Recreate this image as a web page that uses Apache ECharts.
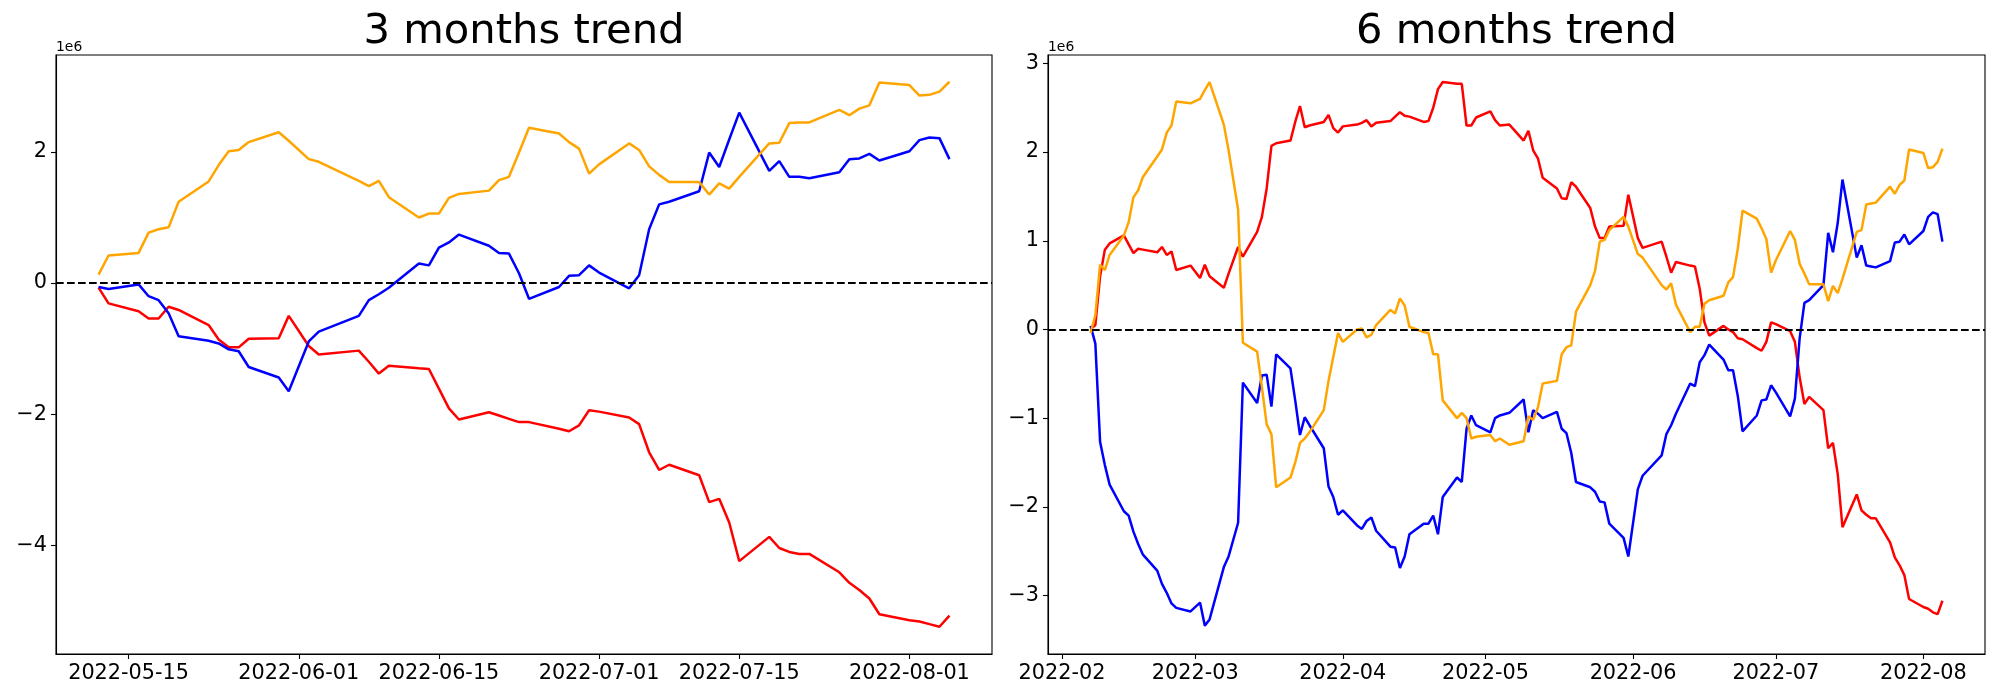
<!DOCTYPE html>
<html><head><meta charset="utf-8">
<script src="https://cdn.jsdelivr.net/npm/echarts@6/dist/echarts.min.js"></script>
<style>html,body{margin:0;padding:0;background:#fff}#c{width:2000px;height:700px}</style>
</head><body><div id="c"></div>
<script>
// ---------- 3 months panel ----------
const leftDates = ['2022-05-12','2022-05-13','2022-05-16','2022-05-17','2022-05-18','2022-05-19','2022-05-20','2022-05-23','2022-05-24','2022-05-25','2022-05-26','2022-05-27','2022-05-30','2022-05-31',
 '2022-06-02','2022-06-03','2022-06-07','2022-06-08','2022-06-09','2022-06-10','2022-06-13','2022-06-14','2022-06-15','2022-06-16','2022-06-17','2022-06-20','2022-06-21','2022-06-22','2022-06-23','2022-06-24','2022-06-27','2022-06-28','2022-06-29','2022-06-30',
 '2022-07-01','2022-07-04','2022-07-05','2022-07-06','2022-07-07','2022-07-08','2022-07-11','2022-07-12','2022-07-13','2022-07-14','2022-07-15','2022-07-18','2022-07-19','2022-07-20','2022-07-21','2022-07-22','2022-07-25','2022-07-26','2022-07-27','2022-07-28','2022-07-29',
 '2022-08-01','2022-08-02','2022-08-03','2022-08-04','2022-08-05'];
const leftRed = [-0.07,-0.31,-0.43,-0.54,-0.54,-0.36,-0.41,-0.64,-0.86,-0.98,-0.98,-0.85,-0.84,-0.50,
 -0.96,-1.09,-1.03,-1.20,-1.38,-1.26,-1.30,-1.31,-1.61,-1.91,-2.08,-1.97,-2.02,-2.07,-2.12,-2.12,-2.22,-2.26,-2.17,-1.94,
 -1.96,-2.05,-2.15,-2.58,-2.85,-2.77,-2.93,-3.34,-3.29,-3.65,-4.24,-3.87,-4.04,-4.10,-4.13,-4.13,-4.41,-4.57,-4.68,-4.81,-5.05,
 -5.14,-5.16,-5.20,-5.24,-5.07];
const leftBlue = [-0.06,-0.09,-0.02,-0.20,-0.26,-0.46,-0.81,-0.88,-0.92,-1.01,-1.04,-1.28,-1.44,-1.65,
 -0.89,-0.74,-0.50,-0.26,-0.17,-0.07,0.30,0.27,0.54,0.62,0.74,0.57,0.46,0.45,0.15,-0.24,-0.06,0.11,0.12,0.27,
 0.16,-0.08,0.12,0.82,1.20,1.24,1.40,1.99,1.77,2.19,2.60,1.71,1.86,1.62,1.62,1.60,1.69,1.89,1.90,1.97,1.87,
 2.01,2.18,2.22,2.21,1.89];
const leftOrange = [0.13,0.42,0.46,0.77,0.82,0.85,1.24,1.55,1.80,2.01,2.03,2.15,2.30,2.17,
 1.89,1.85,1.56,1.48,1.56,1.31,1.00,1.06,1.06,1.30,1.36,1.41,1.57,1.62,1.99,2.37,2.28,2.15,2.05,1.67,
 1.81,2.13,2.03,1.78,1.65,1.54,1.54,1.35,1.52,1.44,1.62,2.13,2.14,2.44,2.45,2.45,2.64,2.56,2.66,2.71,3.06,
 3.02,2.86,2.87,2.92,3.07];
const leftXTicks = ['2022-05-15','2022-06-01','2022-06-15','2022-07-01','2022-07-15','2022-08-01'];
const leftYTicks = [-4,-2,0,2];

// ---------- 6 months panel ----------
const rightDates = ['2022-02-07','2022-02-08','2022-02-09','2022-02-10','2022-02-11','2022-02-14','2022-02-15','2022-02-16','2022-02-17','2022-02-18','2022-02-21','2022-02-22','2022-02-23','2022-02-24','2022-02-25','2022-02-28',
 '2022-03-02','2022-03-03','2022-03-04','2022-03-07','2022-03-08','2022-03-10','2022-03-11','2022-03-14','2022-03-15','2022-03-16','2022-03-17','2022-03-18','2022-03-21','2022-03-22','2022-03-23','2022-03-24','2022-03-25','2022-03-28','2022-03-29','2022-03-30','2022-03-31',
 '2022-04-01','2022-04-04','2022-04-05','2022-04-06','2022-04-07','2022-04-08','2022-04-11','2022-04-12','2022-04-13','2022-04-14','2022-04-15','2022-04-18','2022-04-19','2022-04-20','2022-04-21','2022-04-22','2022-04-25','2022-04-26','2022-04-27','2022-04-28','2022-04-29',
 '2022-05-02','2022-05-03','2022-05-04','2022-05-06','2022-05-09','2022-05-10','2022-05-11','2022-05-12','2022-05-13','2022-05-16','2022-05-17','2022-05-18','2022-05-19','2022-05-20','2022-05-23','2022-05-24','2022-05-25','2022-05-26','2022-05-27','2022-05-30','2022-05-31',
 '2022-06-02','2022-06-03','2022-06-07','2022-06-08','2022-06-09','2022-06-10','2022-06-13','2022-06-14','2022-06-15','2022-06-16','2022-06-17','2022-06-20','2022-06-21','2022-06-22','2022-06-23','2022-06-24','2022-06-27','2022-06-28','2022-06-29','2022-06-30',
 '2022-07-01','2022-07-04','2022-07-05','2022-07-06','2022-07-07','2022-07-08','2022-07-11','2022-07-12','2022-07-13','2022-07-14','2022-07-15','2022-07-18','2022-07-19','2022-07-20','2022-07-21','2022-07-22','2022-07-25','2022-07-26','2022-07-27','2022-07-28','2022-07-29',
 '2022-08-01','2022-08-02','2022-08-03','2022-08-04','2022-08-05'];
const rightRed = [0.00,0.05,0.60,0.90,0.97,1.06,0.96,0.86,0.91,0.90,0.87,0.93,0.84,0.88,0.67,0.72,
 0.58,0.73,0.60,0.47,0.63,0.93,0.82,1.10,1.27,1.59,2.07,2.10,2.13,2.34,2.52,2.28,2.30,2.34,2.42,2.27,2.22,
 2.29,2.31,2.33,2.36,2.29,2.33,2.35,2.40,2.45,2.41,2.40,2.34,2.35,2.50,2.71,2.79,2.77,2.77,2.30,2.30,2.39,
 2.46,2.36,2.30,2.31,2.13,2.24,2.02,1.93,1.71,1.59,1.48,1.47,1.66,1.61,1.37,1.16,1.03,1.03,1.16,1.17,1.52,
 1.03,0.92,0.99,0.82,0.64,0.76,0.72,0.71,0.46,0.08,-0.07,0.04,0.00,-0.03,-0.10,-0.11,-0.21,-0.24,-0.14,0.08,
 0.06,-0.02,-0.14,-0.54,-0.84,-0.76,-0.91,-1.34,-1.28,-1.63,-2.23,-1.86,-2.04,-2.09,-2.13,-2.13,-2.40,-2.57,-2.66,-2.77,-3.04,
 -3.13,-3.15,-3.19,-3.21,-3.06];
const rightBlue = [0.04,-0.16,-1.27,-1.53,-1.75,-2.05,-2.10,-2.28,-2.42,-2.54,-2.72,-2.87,-2.97,-3.09,-3.14,-3.18,
 -3.08,-3.34,-3.27,-2.68,-2.56,-2.18,-0.60,-0.83,-0.52,-0.51,-0.87,-0.28,-0.44,-0.80,-1.19,-0.99,-1.08,-1.34,-1.77,-1.89,-2.09,
 -2.04,-2.21,-2.25,-2.16,-2.12,-2.27,-2.45,-2.46,-2.69,-2.56,-2.31,-2.19,-2.19,-2.10,-2.31,-1.89,-1.67,-1.72,-1.12,-0.97,-1.08,
 -1.16,-1.00,-0.97,-0.94,-0.79,-1.16,-0.91,-0.95,-1.00,-0.93,-1.12,-1.17,-1.39,-1.72,-1.78,-1.83,-1.94,-1.95,-2.19,-2.35,-2.56,
 -1.80,-1.65,-1.42,-1.18,-1.08,-0.95,-0.61,-0.64,-0.37,-0.29,-0.17,-0.34,-0.46,-0.46,-0.75,-1.15,-0.97,-0.80,-0.79,-0.63,
 -0.71,-0.98,-0.78,-0.10,0.30,0.33,0.50,1.09,0.87,1.20,1.69,0.81,0.95,0.72,0.71,0.70,0.77,0.98,0.99,1.07,0.96,
 1.11,1.27,1.32,1.30,0.99];
const rightOrange = [-0.04,0.16,0.73,0.67,0.84,1.06,1.21,1.49,1.57,1.72,1.95,2.03,2.22,2.30,2.57,2.55,
 2.60,2.70,2.79,2.31,2.02,1.35,-0.15,-0.25,-0.65,-1.07,-1.18,-1.78,-1.67,-1.50,-1.28,-1.23,-1.16,-0.91,-0.58,-0.31,-0.04,
 -0.14,0.00,0.01,-0.09,-0.06,0.05,0.22,0.18,0.35,0.27,0.03,-0.03,-0.04,-0.28,-0.28,-0.80,-1.00,-0.94,-1.00,-1.23,-1.21,
 -1.19,-1.26,-1.23,-1.30,-1.26,-0.98,-1.02,-0.88,-0.61,-0.58,-0.28,-0.20,-0.18,0.20,0.50,0.66,0.99,1.01,1.12,1.27,1.16,
 0.85,0.81,0.50,0.45,0.52,0.28,-0.03,0.03,0.03,0.29,0.33,0.38,0.53,0.59,0.91,1.34,1.25,1.14,1.02,0.64,
 0.78,1.11,1.01,0.74,0.63,0.51,0.51,0.32,0.49,0.41,0.57,1.10,1.12,1.41,1.42,1.43,1.61,1.53,1.63,1.68,2.03,
 1.99,1.82,1.83,1.89,2.04];
const rightXTicks = ['2022-02-01','2022-03-01','2022-04-01','2022-05-01','2022-06-01','2022-07-01','2022-08-01'];
const rightYTicks = [-3,-2,-1,0,1,2,3];

const DAY = 86400000;
function ts(s){ const p = s.split('-').map(Number); return Date.UTC(p[0], p[1]-1, p[2]); }
function pad(n){ return (n<10?'0':'') + n; }
function fmtDay(v){ const d = new Date(Math.round(v)); return d.getUTCFullYear()+'-'+pad(d.getUTCMonth()+1)+'-'+pad(d.getUTCDate()); }
function fmtMonth(v){ const d = new Date(Math.round(v)); return d.getUTCFullYear()+'-'+pad(d.getUTCMonth()+1); }
function fmtY(v){ const r = Math.round(v); return r < 0 ? '\u2212' + Math.abs(r) : String(r); }

const FONT = 'DejaVu Sans';
const G = [
  {left:56, top:55, width:936, height:599},
  {left:1048, top:55, width:937, height:599}
];

function xAxis(idx, ticks, min, max, fmt){
  const vals = ticks.map(ts);
  return {
    type:'value', gridIndex: idx, min: min, max: max, scale:true,
    axisLine:{show:true, onZero:false, lineStyle:{color:'#000', width:1.1}},
    axisTick:{show:true, inside:false, length:5, customValues: vals, lineStyle:{color:'#000', width:1.1}},
    axisLabel:{show:true, customValues: vals, margin:9, color:'#000', fontFamily:FONT, fontSize:20.8, formatter: fmt, hideOverlap:false},
    splitLine:{show:false}, minorTick:{show:false}
  };
}
function yAxis(idx, ticks, min, max){
  return {
    type:'value', gridIndex: idx, min: min, max: max,
    axisLine:{show:true, onZero:false, lineStyle:{color:'#000', width:1.1}},
    axisTick:{show:true, inside:false, length:5, customValues: ticks, lineStyle:{color:'#000', width:1.1}},
    axisLabel:{show:true, customValues: ticks, margin:9, color:'#000', fontFamily:FONT, fontSize:20.8, formatter: fmtY},
    splitLine:{show:false}
  };
}
function zeroLine(){
  return { silent:true, symbol:['none','none'], label:{show:false},
    lineStyle:{color:'#000', width:2.2, type:[7.7,3.3]}, emphasis:{disabled:true},
    data:[{yAxis:0}] };
}
function line(name, idx, dates, vals, color, withZero){
  const s = { name:name, type:'line', xAxisIndex: idx, yAxisIndex: idx, showSymbol:false, symbol:'none',
    lineStyle:{color:color, width:2.5}, itemStyle:{color:color}, emphasis:{disabled:true},
    data: dates.map((d,i)=>[ts(d), vals[i]]) };
  if (withZero) s.markLine = zeroLine();
  return s;
}

const chart = echarts.init(document.getElementById('c'), null, {renderer:'canvas'});
chart.setOption({
  animation:false,
  backgroundColor:'#fff',
  grid: G.map(g => Object.assign({show:true, borderColor:'#000', borderWidth:1.1, backgroundColor:'transparent', containLabel:false}, g)),
  xAxis:[
    xAxis(0, leftXTicks, ts('2022-05-12') - 4.25*DAY, ts('2022-08-05') + 4.25*DAY, fmtDay),
    xAxis(1, rightXTicks, ts('2022-02-07') - 8.95*DAY, ts('2022-08-05') + 8.95*DAY, fmtMonth)
  ],
  yAxis:[
    yAxis(0, leftYTicks, -5.656, 3.478),
    yAxis(1, rightYTicks, -3.66, 3.095)
  ],
  series:[
    line('red3', 0, leftDates, leftRed, '#ff0000', false),
    line('blue3', 0, leftDates, leftBlue, '#0000ff', false),
    line('orange3', 0, leftDates, leftOrange, '#ffa500', true),
    line('red6', 1, rightDates, rightRed, '#ff0000', false),
    line('blue6', 1, rightDates, rightBlue, '#0000ff', false),
    line('orange6', 1, rightDates, rightOrange, '#ffa500', true)
  ],
  graphic:[
    {type:'text', x:524, y:32.6, style:{text:'3 months trend', font:'41.7px "DejaVu Sans"', fill:'#000', align:'center', verticalAlign:'middle'}},
    {type:'text', x:1516.5, y:32.6, style:{text:'6 months trend', font:'41.7px "DejaVu Sans"', fill:'#000', align:'center', verticalAlign:'middle'}},
    {type:'text', x:56, y:46.9, style:{text:'1e6', font:'13.9px "DejaVu Sans"', fill:'#000', align:'left', verticalAlign:'middle'}},
    {type:'text', x:1048, y:46.9, style:{text:'1e6', font:'13.9px "DejaVu Sans"', fill:'#000', align:'left', verticalAlign:'middle'}}
  ]
});
</script>
</body></html>
